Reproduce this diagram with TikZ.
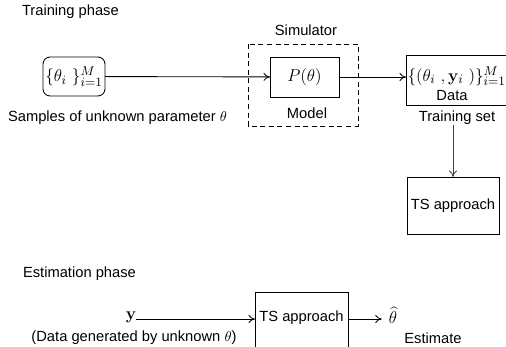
\documentclass[tikz,border=0pt]{standalone}
\usepackage[no-math]{fontspec}
\setmainfont{Liberation Sans}
\usetikzlibrary{arrows.meta}
\begin{document}
\begin{tikzpicture}[x=0.7pt,y=-0.7pt,
  font=\fontsize{10.3}{12.5}\selectfont,
  every node/.style={inner sep=0pt, outer sep=0pt},
  mathtxt/.style={font=\fontsize{12.6}{15}\selectfont},
  blockbox/.style={draw, line width=0.6pt},
  conn/.style={line width=0.6pt, -{To[length=4.5pt,width=5.5pt]}},
  caption/.style={anchor=base}]
\useasboundingbox (0,0) rectangle (506,347);
\clip (0,0) rectangle (506,347);

% ---------- training phase ----------
\node[anchor=base west] (trainhdr) at (22,16) {Training phase};

\node[blockbox, rounded corners=5pt, minimum width=43.4pt, minimum height=27.3pt, mathtxt]
  (samples) at (74,76.5) {$\{\theta_i\ \}_{i=1}^{M}$};
\node[caption] (samplescap) at (117.5,122) {Samples of unknown parameter $\theta$};

% simulator frame with the model block inside
\draw[line width=0.6pt, dash pattern=on 3.5pt off 2.5pt] (248,44) rectangle (358,126);
\node[caption] (simcap) at (306,36) {Simulator};
\node[blockbox, minimum width=48.3pt, minimum height=28pt, mathtxt]
  (model) at (304.5,77) {$P(\theta)$};
\node[caption] (modelcap) at (307,119) {Model};

% training set block
\node[blockbox, minimum width=72.8pt, minimum height=35pt] (data) at (458,80) {};
\node[anchor=west, mathtxt] (pairs) at (407.5,76) {$\{(\theta_i\ , \mathbf{y}_i\ )\}_{i=1}^{M}$};
\node[caption] (datacap) at (452,101) {Data};
\node[caption] (tscap) at (457,122) {Training set};

\node[blockbox, minimum width=64.4pt, minimum height=39.9pt] (ts1) at (453,205.5) {TS approach};

\draw[conn] (samples) -- (model);
\draw[conn] (model.east) -- (data.west |- model.east);
\draw[conn, draw=black!75] (ts1.north |- 0,125) -- (ts1.north);

% ---------- estimation phase ----------
\node[anchor=base west] (esthdr) at (23,278) {Estimation phase};

\node[mathtxt] (yobs) at (131,317) {$\mathbf{y}$};
\node[caption] (yobscap) at (134,342) {(Data generated by unknown $\theta$)};

\node[blockbox, minimum width=65.1pt, minimum height=47.6pt] (ts2) at (301.5,326) {};
\node (ts2txt) at (301.5,318) {TS approach};

\node[mathtxt] (thetahat) at (393,315) {$\widehat{\theta}$};
\node[caption] (estcap) at (433,344) {Estimate};

\coordinate (ystart) at ([yshift=-1.4pt]yobs.east);
\coordinate (hatend) at ([xshift=-5pt]thetahat.west |- ystart);
\draw[conn] (ystart) -- (ts2.west |- ystart);
\draw[conn] (ts2.east |- ystart) -- (hatend);
\end{tikzpicture}
\end{document}
